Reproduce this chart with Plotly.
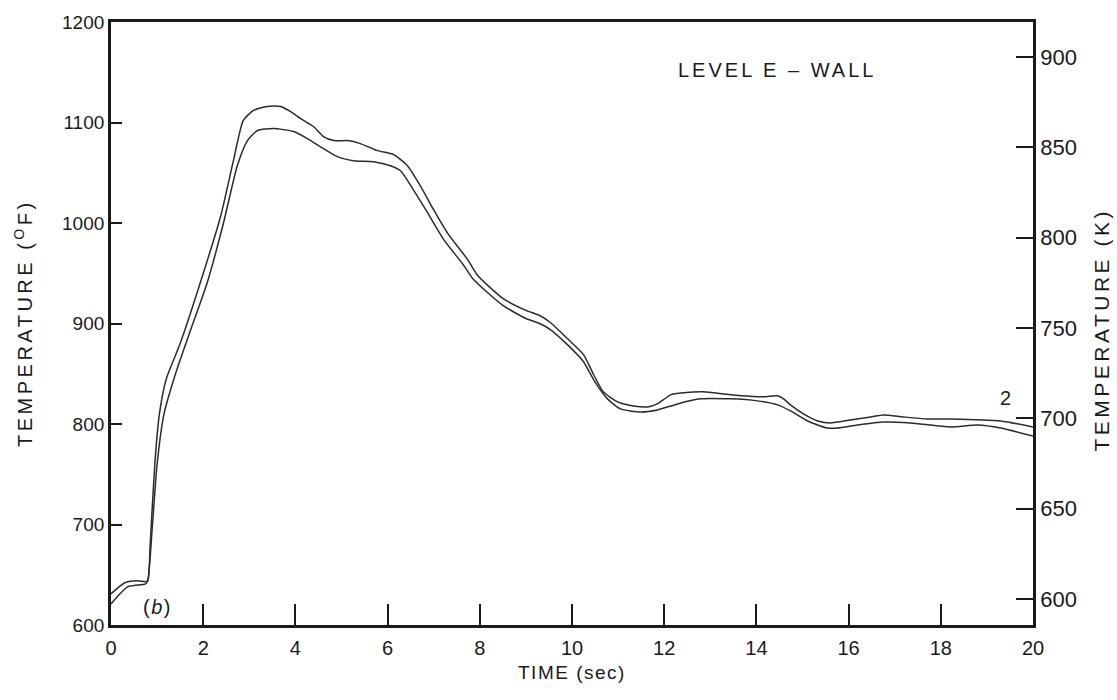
import plotly.graph_objects as go

# ---- data ----
time_upper = [0.0, 0.3, 0.57, 0.75, 0.8, 0.85, 0.95, 1.05, 1.2, 1.5, 1.94, 2.38, 2.66, 2.87, 3.09, 3.39,
              3.68, 3.89, 4.11, 4.39, 4.61, 4.83, 5.13, 5.41, 5.78, 6.13, 6.43, 6.71, 7.0, 7.3, 7.73,
              7.95, 8.5, 9.0, 9.3, 9.53, 9.9, 10.25, 10.47, 10.68, 10.99, 11.33, 11.64, 11.85, 12.14,
              12.42, 12.85, 13.44, 14.15, 14.46, 14.59, 14.74, 15.02, 15.33, 15.61, 16.04, 16.48,
              16.76, 17.19, 17.71, 18.21, 19.3, 20.0]
temp_upper = [631, 642, 644, 643, 644, 680, 760, 810, 845, 880, 941, 1007, 1063, 1102, 1112, 1116,
              1116, 1111, 1104, 1096, 1086, 1082, 1082, 1079, 1072, 1068, 1057, 1037, 1013, 990, 964,
              948, 925, 913, 908, 901, 885, 869, 849, 832, 822, 818, 817, 820, 829,
              831, 832, 829, 827, 828, 825, 819, 810, 803, 801, 804, 807,
              809, 807, 805, 805, 803, 797]

time_lower = [0.0, 0.36, 0.75, 0.8, 0.9, 1.0, 1.15, 1.4, 1.7, 2.09, 2.44, 2.74, 2.96, 3.18, 3.52,
              3.96, 4.26, 4.61, 4.91, 5.26, 5.69, 6.06, 6.28, 6.56, 6.87, 7.21, 7.65, 7.86, 8.5,
              9.0, 9.3, 9.53, 9.9, 10.25, 10.47, 10.77, 11.05, 11.49, 11.85, 12.29, 12.79, 13.44,
              14.02, 14.46, 14.74, 15.11, 15.54, 15.76, 16.19, 16.76, 17.34, 18.21, 18.8, 19.3, 20.0]
temp_lower = [621, 638, 641, 645, 700, 760, 810, 850, 890, 941, 1000, 1057, 1082, 1092, 1094,
              1091, 1084, 1074, 1066, 1062, 1061, 1057, 1052, 1033, 1010, 984, 958, 944, 918,
              905, 900, 894, 879, 862, 844, 825, 815, 812, 814, 820, 825, 825,
              823, 819, 813, 803, 796, 796, 799, 802, 801, 797, 799, 796, 788]

x_ticks = [0, 2, 4, 6, 8, 10, 12, 14, 16, 18, 20]
f_ticks = [600, 700, 800, 900, 1000, 1100, 1200]
k_ticks = [600, 650, 700, 750, 800, 850, 900]

FONT = "Liberation Sans, Arial, sans-serif"
INK = "#1a1a1a"
LINE = "#2b2b2b"


def spaced(txt, px):
    return f'<span style="letter-spacing:{px}px">{txt}</span>'


fig = go.Figure()
fig.add_trace(go.Scatter(x=time_upper, y=temp_upper, mode="lines",
                         line=dict(color=LINE, width=1.5, shape="spline", smoothing=0.6),
                         showlegend=False, hoverinfo="skip"))
fig.add_trace(go.Scatter(x=time_lower, y=temp_lower, mode="lines",
                         line=dict(color=LINE, width=1.5, shape="spline", smoothing=0.6),
                         showlegend=False, hoverinfo="skip"))
# invisible trace to anchor the Kelvin axis
fig.add_trace(go.Scatter(x=[0], y=[700], yaxis="y2", mode="markers",
                         marker=dict(opacity=0, size=1), showlegend=False, hoverinfo="skip"))

fig.update_layout(
    width=1117, height=700,
    margin=dict(l=110.5, r=84, t=18, b=75),
    paper_bgcolor="white", plot_bgcolor="white",
    font=dict(family=FONT, color=INK, size=18),
    xaxis=dict(range=[0, 20], tickvals=x_ticks, ticktext=[str(v) for v in x_ticks],
               ticks="inside", ticklen=21, tickwidth=1.6, tickcolor=INK,
               showline=True, linewidth=2.8, linecolor=INK, mirror=True,
               showgrid=False, zeroline=False, tickfont=dict(size=20), ticklabelstandoff=3),
    yaxis=dict(range=[600, 1200], tickvals=f_ticks, ticktext=[str(v) for v in f_ticks],
               ticks="inside", ticklen=11, tickwidth=1.6, tickcolor=INK,
               showline=True, linewidth=2.8, linecolor=INK,
               showgrid=False, zeroline=False, tickfont=dict(size=19)),
    yaxis2=dict(range=[585.7, 919.3], overlaying="y", side="right",
                tickvals=k_ticks, ticktext=[str(v) for v in k_ticks],
                ticks="inside", ticklen=17, tickwidth=1.6, tickcolor=INK,
                showline=True, linewidth=2.6, linecolor=INK,
                showgrid=False, zeroline=False, tickfont=dict(size=22)),
)

ann = [
    dict(text=spaced("TEMPERATURE (<sup>O</sup>F)", 3.5), xref="paper", yref="paper", x=-0.0949, y=0.5,
         textangle=-90, showarrow=False, font=dict(size=20), xanchor="center", yanchor="middle"),
    dict(text=spaced("TEMPERATURE (K)", 3.5), xref="paper", yref="paper", x=1.0748, y=0.49,
         textangle=-90, showarrow=False, font=dict(size=21), xanchor="center", yanchor="middle"),
    dict(text=spaced("TIME (sec)", 1.5), xref="paper", yref="paper", x=0.5, y=-0.079,
         showarrow=False, font=dict(size=19), xanchor="center", yanchor="middle"),
    dict(text=spaced("LEVEL E – WALL", 3), xref="x", yref="y", x=14.45, y=1152,
         showarrow=False, font=dict(size=20), xanchor="center", yanchor="middle"),
    dict(text="2", xref="x", yref="y", x=19.4, y=826,
         showarrow=False, font=dict(size=20), xanchor="center", yanchor="middle"),
    dict(text=spaced("(<i>b</i>)", 1.5), xref="x", yref="y", x=1.0, y=618,
         showarrow=False, font=dict(size=20), xanchor="center", yanchor="middle"),
]
fig.update_layout(annotations=ann)

fig.write_html("out.html")
